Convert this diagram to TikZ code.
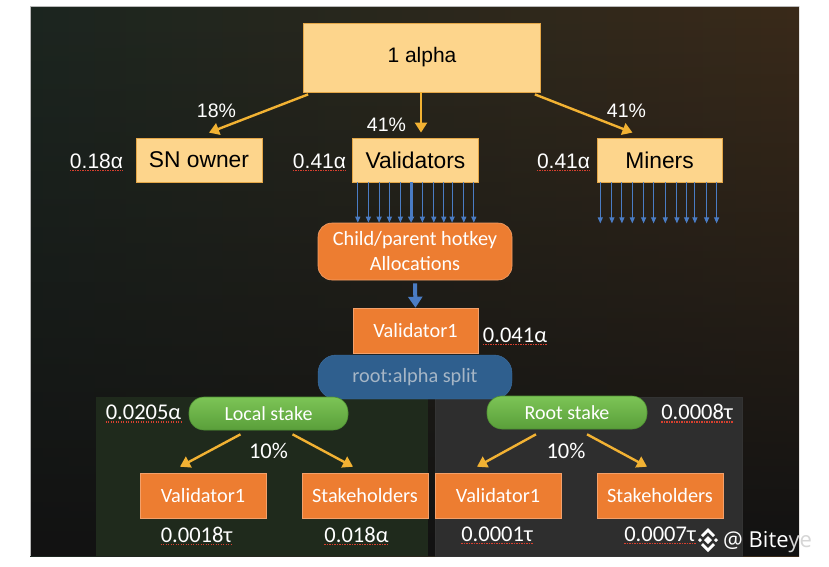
\documentclass[tikz,border=0pt]{standalone}
\usepackage{fontspec}
\setmainfont{Carlito}
\newfontfamily\hv{Liberation Sans}
\newfontfamily\wmf{Open Sans}
\usetikzlibrary{arrows.meta,fadings}
\definecolor{bgL}{HTML}{1C2620}
\definecolor{bgR}{HTML}{3A2A1A}
\definecolor{bgB}{HTML}{121212}
\definecolor{panelG}{HTML}{1F2A1C}
\definecolor{panelD}{HTML}{2E2E2E}
\definecolor{yFill}{HTML}{FDD58C}
\definecolor{yBd}{HTML}{E4A748}
\definecolor{oFill}{HTML}{ED7D31}
\definecolor{oBd}{HTML}{F3A06A}
\definecolor{gTop}{HTML}{7CC456}
\definecolor{gBot}{HTML}{5A9F3A}
\definecolor{gBd}{HTML}{4E8F33}
\definecolor{blueBox}{HTML}{2F5F8E}
\definecolor{blueBd}{HTML}{3D70A3}
\definecolor{blueText}{HTML}{A6B6C6}
\definecolor{goldA}{HTML}{F2B233}
\definecolor{bArr}{HTML}{4A7CC4}
\definecolor{sqRed}{HTML}{D8402F}
\definecolor{wmgray}{HTML}{D6D6D6}
\tikzfading[name=downfade, top color=transparent!100, middle color=transparent!0, bottom color=transparent!0]
\begin{document}
\begin{tikzpicture}[x=1pt,y=-1pt,
  ybox/.style={draw=yBd, fill=yFill, line width=0.8pt, text=black, inner sep=0pt,
    font=\hv\fontsize{22.8}{26}\selectfont},
  obox/.style={draw=oBd, fill=oFill, line width=0.6pt, text=white, inner sep=0pt,
    font=\fontsize{20.3}{24}\selectfont, minimum width=126pt, minimum height=45pt},
  gbox/.style={draw=gBd, line width=0.6pt, top color=gTop, bottom color=gBot, rounded corners=15pt,
    text=white, inner sep=0pt, font=\fontsize{20}{24}\selectfont, minimum height=33pt},
  hvlab/.style={text=white, inner xsep=0pt, inner ysep=1pt, font=\hv\fontsize{19.5}{22}\selectfont, anchor=base},
  numlab/.style={text=white, inner xsep=0pt, inner ysep=1pt, font=\hv\fontsize{21}{24}\selectfont, anchor=base},
  cblab/.style={text=white, inner xsep=0pt, inner ysep=1pt, font=\fontsize{22.5}{24}\selectfont, anchor=base},
  garrow/.style={draw=goldA, line width=2.4pt, -{Triangle[width=12pt,length=10pt]}},
  barrow/.style={draw=bArr, line width=1.1pt, -{Triangle[width=5pt,length=6pt]}},
  bigbarrow/.style={draw=bArr, line width=4pt, -{Triangle[width=14pt,length=11pt]}},
  squig/.style={draw=sqRed, line width=1.6pt, dash pattern=on 1.4pt off 1.1pt}
]
\useasboundingbox (0,0) rectangle (829,566);
\fill[white] (0,0) rectangle (829,566);
% background
\shade[left color=bgL, right color=bgR] (30,6) rectangle (799,556);
\fill[bgB, path fading=downfade] (30,6) rectangle (799,556);
\draw[gray!55, line width=0.7pt] (30,556) -- (30,6) -- (799,6);
% panels
\fill[panelG] (96,397) rectangle (428,556);
\fill[panelD] (435,397) rectangle (742,556);
\draw[gray!40!black, line width=0.6pt] (435,397) rectangle (742,556);

% top boxes
\node[ybox, minimum width=237pt, minimum height=69pt, font=\hv\fontsize{21}{24}\selectfont] (a) at (422,57.5) {1 alpha};
\node[ybox, minimum width=126pt, minimum height=44pt] (sn) at (199,160) {SN owner};
\node[ybox, minimum width=126pt, minimum height=44pt] (val) at (415.5,160) {Validators};
\node[ybox, minimum width=125pt, minimum height=44pt] (min) at (659.5,160) {Miners};

% percent labels
\node[hvlab] (p18) at (216.5,117) {18\%};
\node[hvlab] (p41a) at (386.5,131.5) {41\%};
\node[hvlab] (p41b) at (626.5,117) {41\%};
\node[numlab] (v018) at (96.5,168) {0.18α};
\node[numlab] (v041a) at (319.5,168) {0.41α};
\node[numlab] (v041b) at (563.5,168) {0.41α};

% gold arrows
\draw[garrow] ([xshift=5pt,yshift=-2pt]a.south west) -- ([xshift=10pt,yshift=5pt]sn.north);
\draw[garrow] ([xshift=-1pt]a.south) -- ([xshift=-1pt,yshift=5pt]a.south |- val.north);
\draw[garrow] ([xshift=-6pt,yshift=-2pt]a.south east) -- ([xshift=-27pt,yshift=5pt]min.north);

% child/parent
\node[obox, rounded corners=14pt, minimum width=194pt, minimum height=57pt, align=center,
  font=\fontsize{20.3}{25}\selectfont] (cph) at (415,251.5) {Child/parent hotkey\\Allocations};

% blue arrows from validators
\foreach \o in {5.7,16.3,27,37.3,48.3,70.3,81.7,91.7,100,111.7,121.7}
  \draw[barrow] ([xshift=\o pt]val.south west) -- ([xshift=\o pt]val.south west |- cph.north);
\draw[draw=bArr, line width=2.8pt, -{Triangle[width=6pt,length=6pt]}] ([xshift=59pt]val.south west) -- ([xshift=59pt]val.south west |- cph.north);
% blue arrows from miners
\foreach \o in {3.7,15.3,25.3,35.7,47,57,68.7,80.3,90,98.3,110,120}
  \draw[barrow] ([xshift=\o pt]min.south west) -- ++(0,41);

% validator1 + split
\node[obox, minimum width=125pt] (v1) at (415.5,330.5) {Validator1};
\draw[bigbarrow] ([yshift=-3pt]cph.south) -- (v1.north);
\node[cblab] (v0041) at (515,342) {0.041α};
\node[draw=blueBd, fill=blueBox, rounded corners=18pt, minimum width=194pt, minimum height=44pt,
  inner sep=0pt, text=blueText, font=\fontsize{20.3}{24}\selectfont] (ras) at (415,377) {root:alpha split};

% local stake side
\node[gbox, minimum width=159pt] (ls) at (268.5,413.5) {Local stake};
\node[cblab] (v0205) at (143.5,419.5) {0.0205α};
\node[cblab] (p10a) at (268.5,458) {10\%};
\node[obox] (lv) at (203,495.5) {Validator1};
\node[obox] (lsh) at (365,495.5) {Stakeholders};
\draw[garrow] ([xshift=-28pt,yshift=-4pt]ls.south) -- ([xshift=-23pt,yshift=6pt]lv.north);
\draw[garrow] ([xshift=24pt,yshift=-4pt]ls.south) -- ([xshift=-12pt,yshift=6pt]lsh.north);
\node[cblab] (t0018) at (196.5,542) {0.0018τ};
\node[cblab] (a018) at (356.5,542) {0.018α};

% root stake side
\node[gbox, minimum width=160pt] (rs) at (567,412.5) {Root stake};
\node[cblab] (t0008) at (697,419.5) {0.0008τ};
\node[cblab] (p10b) at (566,458) {10\%};
\node[obox] (rv) at (498,495.5) {Validator1};
\node[obox] (rsh) at (660,495.5) {Stakeholders};
\draw[garrow] ([xshift=-31pt,yshift=-5pt]rs.south) -- ([xshift=-21pt,yshift=6pt]rv.north);
\draw[garrow] ([xshift=20pt,yshift=-5pt]rs.south) -- ([xshift=-13pt,yshift=6pt]rsh.north);
\node[cblab] (t0001) at (497,541) {0.0001τ};
\node[cblab] (t0007) at (660,541) {0.0007τ};

% red spell-check underlines
\foreach \n in {v018,v041a,v041b,v0041,v0205,t0008,t0018,a018,t0001,t0007}
  \draw[squig] ([yshift=-2.6pt]\n.base west) -- ([yshift=-2.6pt]\n.base east);

% watermark
\node[anchor=base west, inner sep=0pt, text=white, font=\wmf\fontsize{22}{24}\selectfont] (wm) at (723,547) {@ Bite\textcolor{wmgray}{ye}};
\begin{scope}[shift={(708,540)}]
  \fill[white] (0,-4) -- (4,0) -- (0,4) -- (-4,0) -- cycle;
  \fill[white] (-8,-2) -- (-6,0) -- (-8,2) -- (-10,0) -- cycle;
  \fill[white] (8,-2) -- (10,0) -- (8,2) -- (6,0) -- cycle;
  \fill[white] (0,-12) -- (7,-5) -- (5,-3) -- (0,-8) -- (-5,-3) -- (-7,-5) -- cycle;
  \fill[white] (0,12) -- (7,5) -- (5,3) -- (0,8) -- (-5,3) -- (-7,5) -- cycle;
\end{scope}
\end{tikzpicture}
\end{document}
